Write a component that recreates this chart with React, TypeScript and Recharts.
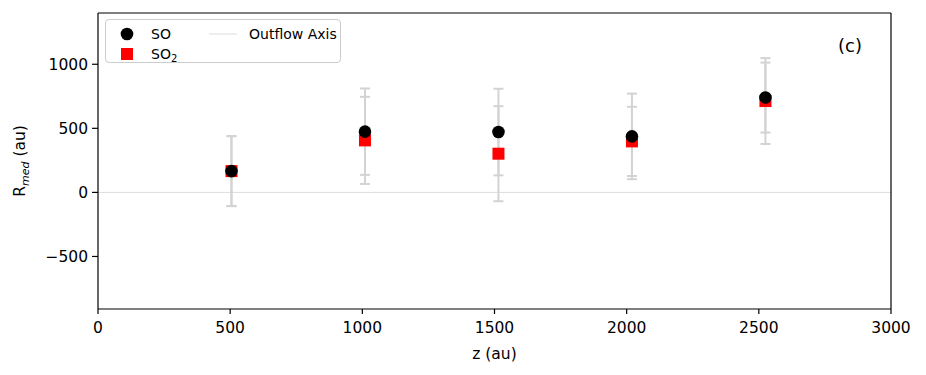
import { ComposedChart, Scatter, ErrorBar, XAxis, YAxis, ReferenceLine, ReferenceDot, Legend } from 'recharts';

// distances along the outflow (au) and median radii per molecule
const zPos = [505, 1010, 1515, 2020, 2525];
const soR = [166, 474, 471, 437, 740];
const soErr = [273, 337, 338, 334, 273];
const so2R = [166, 406, 302, 398, 713];
const so2Err = [273, 340, 371, 270, 335];

const xTicks = [0, 500, 1000, 1500, 2000, 2500, 3000];
const yTicks = [-500, 0, 500, 1000];

const soData = zPos.map((z, i) => ({ z, r: soR[i], err: soErr[i] }));
const so2Data = zPos.map((z, i) => ({ z, r: so2R[i], err: so2Err[i] }));

const FONT = '"DejaVu Sans", sans-serif';
const ERR_COLOR = '#d3d3d3';
const X_MAX = 3000;
const Y_MIN = -910;
const Y_MAX = 1400;

const Circle = (p: any) => <circle cx={p.cx} cy={p.cy} r={6.3} fill="#000" />;
const Square = (p: any) => <rect x={p.cx - 6} y={p.cy - 6} width={12} height={12} fill="#ff0000" />;
const Nothing = () => <g />;

// matplotlib uses a real minus sign
const fmtTick = (v: number) => (v < 0 ? `\u2212${Math.abs(v)}` : `${v}`);

function YLabel(props: any) {
  const vb = props.viewBox || {};
  const cy = (vb.y ?? 13) + (vb.height ?? 296) / 2;
  return (
    <text x={0} y={0} transform={`translate(25, ${cy}) rotate(-90)`} textAnchor="middle"
      fontFamily={FONT} fontSize={15.5} fill="#000">
      R<tspan fontSize={11} fontStyle="italic" dy={4}>med</tspan>
      <tspan dy={-4}> (au)</tspan>
    </text>
  );
}

function LegendBox() {
  return (
    <div style={{
      width: 236, height: 44, border: '1px solid #cccccc', borderRadius: 4,
      background: 'rgba(255,255,255,0.8)', position: 'relative', boxSizing: 'border-box',
    }}>
      <svg width={236} height={44} style={{ position: 'absolute', left: 0, top: 0 }}>
        <circle cx={21} cy={14} r={6.3} fill="#000" />
        <rect x={15} y={28} width={12} height={12} fill="#ff0000" />
        <line x1={103} x2={131} y1={14} y2={14} stroke="#dddddd" strokeWidth={1} />
        <text x={45} y={19} fontFamily={FONT} fontSize={14}>SO</text>
        <text x={45} y={39} fontFamily={FONT} fontSize={14}>SO<tspan fontSize={10} dy={3}>2</tspan></text>
        <text x={143} y={19} fontFamily={FONT} fontSize={14}>Outflow Axis</text>
      </svg>
    </div>
  );
}

export default function App() {
  return (
    <div style={{ position: 'absolute', left: 0, top: 0, width: 926, height: 375, background: '#fff' }}>
      <ComposedChart width={926} height={375} margin={{ top: 13, right: 35, bottom: 0, left: 0 }}>
        <XAxis type="number" dataKey="z" domain={[0, X_MAX]} ticks={xTicks} allowDataOverflow
          height={66} stroke="#000" strokeWidth={1.2} tickSize={5} tickMargin={8}
          tick={{ fill: '#000', fontSize: 15.5, fontFamily: FONT }}
          label={{ value: 'z (au)', position: 'insideBottom', offset: 16, fill: '#000', fontSize: 15.5, fontFamily: FONT }} />
        <YAxis type="number" dataKey="r" domain={[Y_MIN, Y_MAX]} ticks={yTicks} allowDataOverflow
          width={98} stroke="#000" strokeWidth={1.2} tickSize={6} tickMargin={4} tickFormatter={fmtTick}
          tick={{ fill: '#000', fontSize: 15.5, fontFamily: FONT }}
          label={{ content: <YLabel /> }} />
        <ReferenceLine y={0} stroke="#dddddd" strokeWidth={1} />
        <Scatter name="so2-err" data={so2Data} shape={Nothing} isAnimationActive={false} legendType="none">
          <ErrorBar dataKey="err" direction="y" width={5} stroke={ERR_COLOR} strokeWidth={2} isAnimationActive={false} />
        </Scatter>
        <Scatter name="so-err" data={soData} shape={Nothing} isAnimationActive={false} legendType="none">
          <ErrorBar dataKey="err" direction="y" width={5} stroke={ERR_COLOR} strokeWidth={2} isAnimationActive={false} />
        </Scatter>
        <Scatter name="SO2" data={so2Data} shape={Square} isAnimationActive={false} />
        <Scatter name="SO" data={soData} shape={Circle} isAnimationActive={false} />
        {/* top and right spines */}
        <ReferenceLine y={Y_MAX} stroke="#000" strokeWidth={1.2} />
        <ReferenceLine x={X_MAX} stroke="#000" strokeWidth={1.2} />
        <ReferenceDot x={2845} y={1148} r={0} fill="none" stroke="none"
          label={{ value: '(c)', position: 'center', fill: '#000', fontSize: 18, fontFamily: FONT }} />
        <Legend layout="vertical" align="center" verticalAlign="middle" content={<LegendBox />}
          wrapperStyle={{ position: 'absolute', left: 105, top: 19, width: 236, height: 44 }} />
      </ComposedChart>
    </div>
  );
}
